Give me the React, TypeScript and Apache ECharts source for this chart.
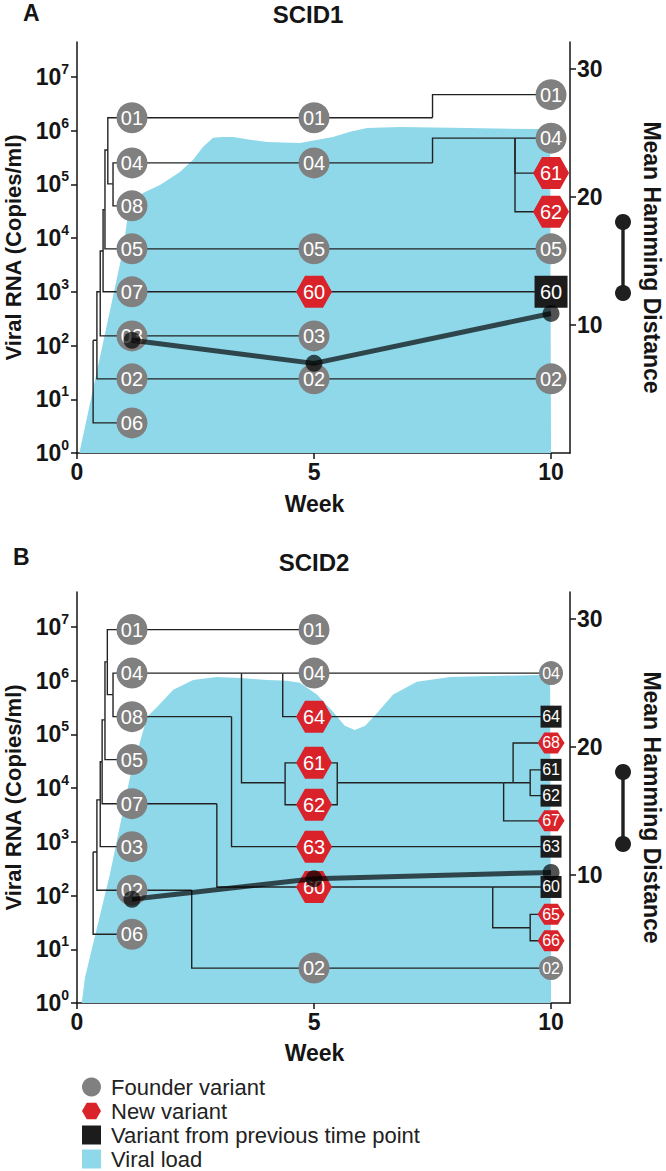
import React, { useEffect, useRef } from 'react';
import * as echarts from 'echarts';

// ---------- axis ticks ----------
const weekTicks = [0, 5, 10];
const logTicks = [0, 1, 2, 3, 4, 5, 6, 7];
const hammingTicks = [10, 20, 30];

// ---------- viral load (week, log10 copies/ml) ----------
const viralWeeksA = [0.05, 0.97, 1.08, 1.39, 1.75, 2.17, 2.45, 2.66, 2.87, 3.08, 3.29, 3.65, 4.01, 4.70, 5.40, 5.76, 6.12, 6.81, 8.23, 9.62, 9.98, 10.0];
const viralLogA = [0, 3.78, 4.47, 4.84, 4.99, 5.23, 5.46, 5.70, 5.87, 5.88, 5.88, 5.83, 5.79, 5.77, 5.88, 5.98, 6.05, 6.07, 6.05, 6.03, 6.03, 0];
const viralWeeksB = [0.10, 0.17, 0.70, 1.12, 1.48, 1.69, 2.03, 2.45, 2.95, 3.44, 4.01, 4.43, 4.70, 5.06, 5.40, 5.65, 5.86, 6.08, 6.33, 6.67, 7.17, 7.87, 8.92, 9.98, 10.0];
const viralLogB = [0, 0.48, 2.42, 4.21, 5.33, 5.51, 5.83, 6.01, 6.07, 6.05, 6.01, 6.00, 5.96, 5.74, 5.42, 5.16, 5.08, 5.16, 5.40, 5.74, 5.98, 6.07, 6.09, 6.11, 0];

// ---------- mean hamming distance ----------
const hammingWeeksA = [1.16, 5, 10];
const hammingA = [8.8, 7.0, 10.9];
const hammingWeeksB = [1.16, 5, 10];
const hammingB = [8.1, 9.7, 10.2];

// ---------- trees: [key, label, week, row, kind]  F founder, N new, P previous, J junction ----------
const nodesA: [string, string, number, number, string][] = [
  ['j1', '', 0.34, 2.10, 'J'], ['j2', '', 0.42, 2.10, 'J'], ['j3', '', 0.49, 3.00, 'J'],
  ['j4', '', 0.55, 3.76, 'J'], ['j5', '', 0.59, 4.53, 'J'], ['j6', '', 0.65, 5.64, 'J'], ['j7', '', 0.76, 5.01, 'J'],
  ['01a', '01', 1.16, 6.24, 'F'], ['04a', '04', 1.16, 5.40, 'F'], ['08a', '08', 1.16, 4.60, 'F'], ['05a', '05', 1.16, 3.80, 'F'],
  ['07a', '07', 1.16, 3.00, 'F'], ['03a', '03', 1.16, 2.18, 'F'], ['02a', '02', 1.16, 1.38, 'F'], ['06a', '06', 1.16, 0.56, 'F'],
  ['01b', '01', 5, 6.24, 'F'], ['04b', '04', 5, 5.40, 'F'], ['05b', '05', 5, 3.80, 'F'], ['60b', '60', 5, 3.00, 'N'],
  ['03b', '03', 5, 2.18, 'F'], ['02b', '02', 5, 1.38, 'F'],
  ['k1', '', 7.5, 6.24, 'J'], ['k2', '', 7.5, 5.40, 'J'], ['k3', '', 9.24, 5.86, 'J'],
  ['01c', '01', 10, 6.67, 'F'], ['04c', '04', 10, 5.86, 'F'], ['61c', '61', 10, 5.21, 'N'], ['62c', '62', 10, 4.49, 'N'],
  ['05c', '05', 10, 3.80, 'F'], ['60c', '60', 10, 3.00, 'P'], ['02c', '02', 10, 1.38, 'F'],
];
const edgesA: [string, string][] = [
  ['j1', '06a'], ['j1', 'j2'], ['j2', '02a'], ['j2', 'j3'], ['j3', '03a'], ['j3', 'j4'], ['j4', '07a'], ['j4', 'j5'],
  ['j5', '05a'], ['j5', 'j6'], ['j6', '01a'], ['j6', 'j7'], ['j7', '04a'], ['j7', '08a'],
  ['01a', '01b'], ['01b', 'k1'], ['k1', '01c'],
  ['04a', '04b'], ['04b', 'k2'], ['k2', 'k3'], ['k3', '04c'], ['k3', '61c'], ['k3', '62c'],
  ['05a', '05b'], ['05b', '05c'], ['07a', '60b'], ['60b', '60c'], ['03a', '03b'], ['02a', '02b'], ['02b', '02c'],
];

const nodesB: [string, string, number, number, string][] = [
  ['j1', '', 0.34, 2.81, 'J'], ['j2', '', 0.42, 2.81, 'J'], ['j3', '', 0.49, 3.78, 'J'], ['j4', '', 0.53, 4.49, 'J'],
  ['j5', '', 0.59, 5.27, 'J'], ['j6', '', 0.64, 6.35, 'J'], ['j7', '', 0.76, 5.74, 'J'],
  ['01a', '01', 1.16, 6.95, 'F'], ['04a', '04', 1.16, 6.14, 'F'], ['08a', '08', 1.16, 5.33, 'F'], ['05a', '05', 1.16, 4.53, 'F'],
  ['07a', '07', 1.16, 3.71, 'F'], ['03a', '03', 1.16, 2.91, 'F'], ['02a', '02', 1.16, 2.10, 'F'], ['06a', '06', 1.16, 1.28, 'F'],
  ['x1', '', 3.47, 6.14, 'J'], ['x3', '', 4.34, 6.14, 'J'], ['x2', '', 4.39, 4.10, 'J'], ['x4', '', 3.26, 5.33, 'J'],
  ['x5', '', 2.95, 3.71, 'J'], ['x6', '', 2.42, 2.10, 'J'],
  ['01b', '01', 5, 6.95, 'F'], ['04b', '04', 5, 6.14, 'F'], ['64b', '64', 5, 5.33, 'N'], ['61b', '61', 5, 4.47, 'N'],
  ['62b', '62', 5, 3.69, 'N'], ['63b', '63', 5, 2.91, 'N'], ['60b', '60', 5, 2.16, 'N'], ['02b', '02', 5, 0.65, 'F'],
  ['m', '', 5.49, 4.10, 'J'], ['n1', '', 9.0, 4.10, 'J'], ['n2', '', 9.2, 4.10, 'J'], ['n3', '', 9.56, 4.10, 'J'],
  ['z1', '', 8.77, 2.16, 'J'], ['z2', '', 9.56, 1.40, 'J'],
  ['04c', '04', 10, 6.14, 'F'], ['64c', '64', 10, 5.33, 'P'], ['68c', '68', 10, 4.84, 'N'], ['61c', '61', 10, 4.34, 'P'],
  ['62c', '62', 10, 3.86, 'P'], ['67c', '67', 10, 3.39, 'N'], ['63c', '63', 10, 2.91, 'P'], ['60c', '60', 10, 2.16, 'P'],
  ['65c', '65', 10, 1.65, 'N'], ['66c', '66', 10, 1.16, 'N'], ['02c', '02', 10, 0.65, 'F'],
];
const edgesB: [string, string][] = [
  ['j1', '06a'], ['j1', 'j2'], ['j2', '02a'], ['j2', 'j3'], ['j3', '03a'], ['j3', 'j4'], ['j4', '07a'], ['j4', 'j5'],
  ['j5', '05a'], ['j5', 'j6'], ['j6', '01a'], ['j6', 'j7'], ['j7', '04a'], ['j7', '08a'],
  ['01a', '01b'],
  ['04a', 'x1'], ['x1', 'x3'], ['x3', '04b'], ['x3', '64b'], ['x1', 'x2'], ['x2', '61b'], ['x2', '62b'],
  ['08a', 'x4'], ['x4', '63b'], ['07a', 'x5'], ['x5', '60b'], ['02a', 'x6'], ['x6', '02b'],
  ['04b', '04c'], ['64b', '64c'],
  ['m', '61b'], ['m', '62b'], ['m', 'n1'], ['n1', '67c'], ['n1', 'n2'], ['n2', '68c'], ['n2', 'n3'], ['n3', '61c'], ['n3', '62c'],
  ['63b', '63c'], ['60b', 'z1'], ['z1', '60c'], ['z1', 'z2'], ['z2', '65c'], ['z2', '66c'], ['02b', '02c'],
];

const legendNames = ['Founder variant', 'New variant', 'Variant from previous time point', 'Viral load'];

// ---------- styles ----------
const FONT = '"Liberation Sans", Arial, Helvetica, sans-serif';
const GRAY = '#808080';
const RED = '#d9222a';
const BLACK = '#1c1c1c';
const BLUE = '#8ed8ea';
const INK = '#151515';
const HEX = 'path://M0,43.3L25,0L75,0L100,43.3L75,86.6L25,86.6Z';

function panelSeries(
  nodes: [string, string, number, number, string][],
  edges: [string, string][],
  vW: number[], vL: number[], hW: number[], hV: number[],
  gi: number, smallAtEnd: boolean
) {
  const map: Record<string, [string, string, number, number, string]> = {};
  nodes.forEach((n) => { map[n[0]] = n; });
  const yl = gi * 2;
  const yr = gi * 2 + 1;
  const kinds = [
    { kind: 'F', name: legendNames[0], symbol: 'circle', color: GRAY },
    { kind: 'N', name: legendNames[1], symbol: HEX, color: RED },
    { kind: 'P', name: legendNames[2], symbol: 'rect', color: BLACK },
  ];
  const sizeFor = (kind: string, sm: boolean): any =>
    kind === 'F' ? (sm ? 24 : 31) : kind === 'N' ? (sm ? [27, 21] : [36, 32]) : (sm ? [21, 22] : [33, 32]);

  const series: any[] = [];
  series.push({
    type: 'line', name: legendNames[3], xAxisIndex: gi, yAxisIndex: yl,
    data: vW.map((w, i) => [w, vL[i]]), symbol: 'none', silent: true,
    color: BLUE, lineStyle: { width: 0, color: BLUE }, itemStyle: { color: BLUE },
    areaStyle: { color: BLUE, opacity: 1 }, z: 1,
  });
  series.push({
    type: 'lines', coordinateSystem: 'cartesian2d', xAxisIndex: gi, yAxisIndex: yl,
    polyline: true, silent: true, z: 2,
    lineStyle: { color: '#222', width: 1.4, opacity: 1 },
    data: edges.map(([p, c]) => {
      const P = map[p]; const C = map[c];
      return { coords: [[P[2], P[3]], [P[2], C[3]], [C[2], C[3]]] };
    }),
  });
  kinds.forEach((k) => {
    series.push({
      type: 'scatter', name: k.name, xAxisIndex: gi, yAxisIndex: yl, symbol: k.symbol,
      itemStyle: { color: k.color, opacity: 1 }, z: 3, emphasis: { disabled: true },
      label: { show: true, position: 'inside', color: '#fff', fontSize: 20, fontFamily: FONT, formatter: '{b}' },
      data: nodes.filter((n) => n[4] === k.kind).map((n) => {
        const sm = smallAtEnd && n[2] >= 10;
        return { name: n[1], value: [n[2], n[3]], symbolSize: sizeFor(k.kind, sm), label: { fontSize: sm ? 16 : 20 } };
      }),
    });
  });
  series.push({
    type: 'line', name: 'Mean Hamming Distance', xAxisIndex: gi, yAxisIndex: yr,
    data: hW.map((w, i) => [w, hV[i]]), symbol: 'circle', symbolSize: 17, z: 5, silent: true,
    lineStyle: { color: 'rgba(0,0,0,0.68)', width: 5 },
    itemStyle: { color: 'rgba(0,0,0,0.68)', borderWidth: 0 },
  });
  return series;
}

function xAxisFor(gi: number, gap: number) {
  return {
    gridIndex: gi, type: 'value', min: 0, max: 10.4, interval: 5,
    axisLine: { show: true, onZero: false, lineStyle: { color: INK, width: 1.5 } },
    axisTick: { show: true, length: 6, customValues: weekTicks, lineStyle: { color: INK, width: 1.5 } },
    axisLabel: { customValues: weekTicks, margin: 7, fontSize: 23, fontWeight: 'bold', color: INK, fontFamily: FONT },
    splitLine: { show: false },
    name: 'Week', nameLocation: 'middle', nameGap: gap,
    nameTextStyle: { fontSize: 23, fontWeight: 'bold', color: INK, fontFamily: FONT, padding: [0, 18, 0, 0] },
  };
}

function yAxesFor(gi: number) {
  return [
    {
      gridIndex: gi, type: 'value', position: 'left', min: 0, max: 7.65, interval: 1,
      axisLine: { show: true, lineStyle: { color: INK, width: 1.5 } },
      axisTick: { show: true, length: 6, customValues: logTicks, lineStyle: { color: INK, width: 1.5 } },
      axisLabel: {
        customValues: logTicks, margin: 8, color: INK, fontFamily: FONT,
        formatter: (v: number) => `{b|10}{s|${v}}`,
        rich: {
          b: { fontSize: 23, fontWeight: 'bold', color: INK, fontFamily: FONT, lineHeight: 30 },
          s: { fontSize: 14, fontWeight: 'bold', color: INK, fontFamily: FONT, verticalAlign: 'top', lineHeight: 16 },
        },
      },
      splitLine: { show: false },
      name: 'Viral RNA (Copies/ml)', nameLocation: 'middle', nameGap: 53,
      nameTextStyle: { fontSize: 22, fontWeight: 'bold', color: INK, fontFamily: FONT },
    },
    {
      gridIndex: gi, type: 'value', position: 'right', min: 0, max: 32.1, interval: 10,
      axisLine: { show: true, lineStyle: { color: INK, width: 1.5 } },
      axisTick: { show: true, length: 6, customValues: hammingTicks, lineStyle: { color: INK, width: 1.5 } },
      axisLabel: { customValues: hammingTicks, margin: 7, fontSize: 23, fontWeight: 'bold', color: INK, fontFamily: FONT },
      splitLine: { show: false },
      name: 'Mean Hamming Distance', nameLocation: 'middle', nameRotate: -90, nameGap: 70,
      nameTextStyle: { fontSize: 23, fontWeight: 'bold', color: INK, fontFamily: FONT, padding: [0, 0, 0, 20] },
    },
  ];
}

function lollipop(x: number, y1: number, y2: number) {
  return {
    type: 'group', silent: true,
    children: [
      { type: 'line', shape: { x1: x, y1, x2: x, y2 }, style: { stroke: '#1f1f1f', lineWidth: 3.4 } },
      { type: 'circle', shape: { cx: x, cy: y1, r: 8 }, style: { fill: '#1f1f1f' } },
      { type: 'circle', shape: { cx: x, cy: y2, r: 8 }, style: { fill: '#1f1f1f' } },
    ],
  };
}

export default function App() {
  const ref = useRef<HTMLDivElement>(null);
  useEffect(() => {
    if (!ref.current) return;
    const chart = echarts.init(ref.current, null, { renderer: 'svg' });
    const titleStyle = { fontSize: 24, fontWeight: 'bold', color: INK, fontFamily: FONT };
    const option: any = {
      animation: false,
      backgroundColor: '#ffffff',
      textStyle: { fontFamily: FONT },
      title: [
        { text: 'A', left: 23, top: 1, padding: 0, textStyle: { ...titleStyle, fontSize: 23 } },
        { text: 'SCID1', left: 308, top: 2, padding: 0, textAlign: 'center', textStyle: titleStyle },
        { text: 'B', left: 13, top: 545, padding: 0, textStyle: { ...titleStyle, fontSize: 23 } },
        { text: 'SCID2', left: 314, top: 550, padding: 0, textAlign: 'center', textStyle: titleStyle },
      ],
      grid: [
        { left: 77, top: 42, width: 493, height: 411, outerBoundsMode: 'none' },
        { left: 77, top: 592, width: 493, height: 411, outerBoundsMode: 'none' },
      ],
      xAxis: [xAxisFor(0, 39), xAxisFor(1, 38)],
      yAxis: [...yAxesFor(0), ...yAxesFor(1)],
      legend: {
        orient: 'vertical', left: 82, top: 1076, height: 200, itemWidth: 19, itemHeight: 19, itemGap: 2,
        selectedMode: false, padding: 0,
        itemStyle: { borderWidth: 0 },
        textStyle: { fontSize: 22, color: '#222', fontFamily: FONT, padding: [0, 0, 0, 5] },
        data: [
          { name: legendNames[0], icon: 'circle' },
          { name: legendNames[1], icon: HEX },
          { name: legendNames[2], icon: 'rect' },
          { name: legendNames[3], icon: 'rect' },
        ],
      },
      graphic: [lollipop(623, 222, 293), lollipop(623, 772, 844)],
      series: [
        ...panelSeries(nodesA, edgesA, viralWeeksA, viralLogA, hammingWeeksA, hammingA, 0, false),
        ...panelSeries(nodesB, edgesB, viralWeeksB, viralLogB, hammingWeeksB, hammingB, 1, true),
      ],
    };
    chart.setOption(option);
    return () => chart.dispose();
  }, []);
  return <div ref={ref} style={{ position: 'absolute', left: 0, top: 0, width: 666, height: 1171 }} />;
}
